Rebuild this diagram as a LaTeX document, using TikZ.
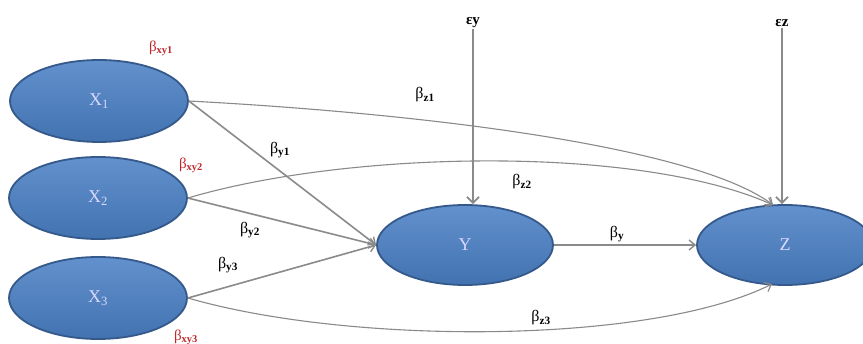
\documentclass[tikz,border=0pt]{standalone}
\usepackage{fontspec}
\setmainfont{Liberation Serif}
\usetikzlibrary{shapes.geometric,arrows.meta}
\definecolor{nodetop}{HTML}{6291CD}
\definecolor{nodebot}{HTML}{4272B0}
\definecolor{nodeedge}{HTML}{34598A}
\definecolor{arrowgray}{HTML}{8A8A8A}
\definecolor{labred}{HTML}{C0282D}
\newcommand{\bsub}[1]{β\textsubscript{\textbf{#1}}}
\tikzset{
  var/.style={ellipse, minimum width=178pt, minimum height=82pt, inner sep=0pt,
    top color=nodetop, bottom color=nodebot, draw=nodeedge, line width=1.8pt,
    text=white!85!blue, font=\fontsize{18}{18}\selectfont},
  lab/.style={inner sep=1pt, font=\fontsize{16}{16}\selectfont},
  redlab/.style={inner sep=1pt, text=labred, font=\fontsize{15}{15}\selectfont},
  elab/.style={inner sep=1pt, font=\fontsize{15}{15}\selectfont\bfseries},
  arr/.style={draw=arrowgray, line width=1.6pt, -{Straight Barb[length=6pt,width=10pt,line width=1.4pt]}},
  carr/.style={draw=arrowgray, line width=1.1pt, -{Straight Barb[length=6pt,width=10pt,line width=1.2pt]}},
  earr/.style={draw=arrowgray, line width=2.6pt, -{Straight Barb[length=6pt,width=12pt,line width=1.8pt]}}
}
\begin{document}
\begin{tikzpicture}[x=1pt,y=-1pt]
\useasboundingbox (0,0) rectangle (863,344);
\fill[white] (0,0) rectangle (863,344);
\begin{scope}
\clip (0,0) rectangle (863,344);
\node[var] (X1) at (99,101) {X\textsubscript{1}};
\node[var] (X2) at (98,198) {X\textsubscript{2}};
\node[var] (X3) at (98,298) {X\textsubscript{3}};
\node[var, minimum width=176pt, minimum height=80pt] (Y) at (465,245) {Y};
\node[var, minimum width=176pt, minimum height=80pt] (Z) at (785,245) {Z};
\end{scope}

\node[elab] (ey) at (473,23) {εy};
\node[elab] (ez) at (782,23) {εz};

\coordinate (zin) at (773,205);
\coordinate (zbot) at (772,284);

% straight arrows to Y
\draw[arr] (X1.east) -- (Y.west);
\draw[arr] (X2.east) -- (Y.west);
\draw[arr] (X3.east) -- (Y.west);
\draw[arr] (Y.east) -- (Z.west);

% curved arrows to Z
\draw[carr] (X1.east) .. controls (450,115) and (700,150) .. (zin);
\draw[carr] (X2.east) .. controls (350,150) and (640,145) .. (zin);
\draw[carr] (X3.east) .. controls (350,345) and (650,345) .. (zbot);

% error terms
\draw[earr] (ey.south) -- (ey.south |- Y.north);
\draw[earr] (ez.south) -- (ez.south |- Z.north);

% labels
\node[redlab] (bxy1) at (161,48) {\bsub{xy1}};
\node[redlab] (bxy2) at (191,165) {\bsub{xy2}};
\node[redlab] (bxy3) at (186,337) {\bsub{xy3}};
\node[lab] (bz1) at (425,95) {\bsub{z1}};
\node[lab] (by1) at (280,150) {\bsub{y1}};
\node[lab] (bz2) at (522,182) {\bsub{z2}};
\node[lab] (by2) at (250,230) {\bsub{y2}};
\node[lab] (by3) at (228,265) {\bsub{y3}};
\node[lab] (by) at (617,234) {\bsub{y}};
\node[lab] (bz3) at (541,318) {\bsub{z3}};
\end{tikzpicture}
\end{document}
